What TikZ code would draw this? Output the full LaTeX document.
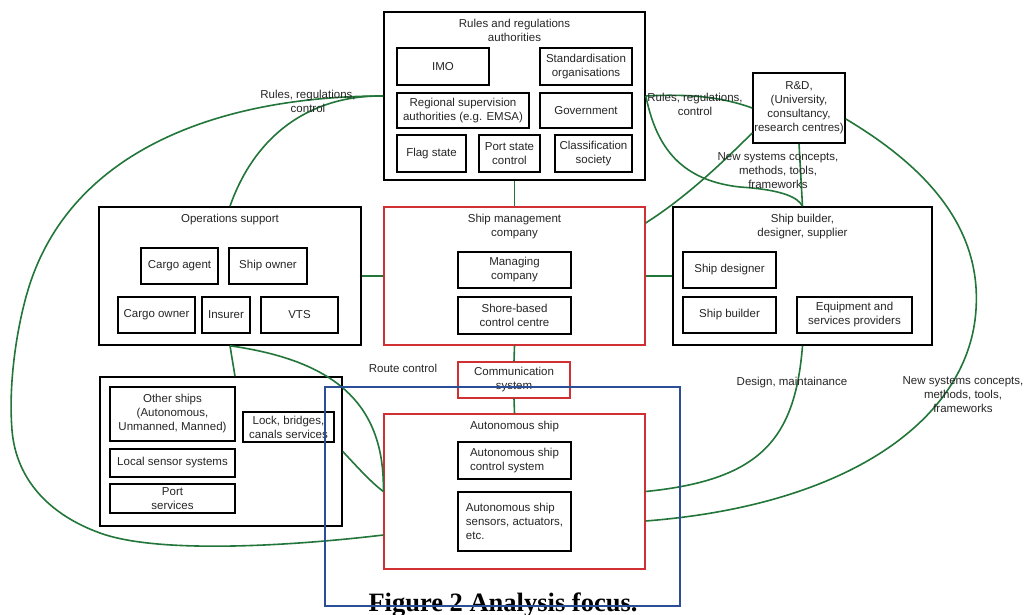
\documentclass[tikz,border=0pt]{standalone}
\usepackage{fontspec}
\setmainfont{Liberation Sans}
\newfontfamily\capfont{Liberation Serif}
\definecolor{linkgreen}{RGB}{34,118,58}
\definecolor{mgmtred}{RGB}{208,48,52}
\definecolor{focusblue}{RGB}{44,78,150}

\begin{document}
\begin{tikzpicture}[x=1pt, y=-1pt,
  every node/.style={font=\fontsize{11.5}{14}\selectfont, text=black!85},
  inbox/.style={draw, line width=1.6pt, inner sep=1pt, align=center},
  outerbox/.style={draw, line width=1.6pt},
  redbox/.style={draw=mgmtred, line width=1.3pt},
  boxtitle/.style={anchor=north, inner sep=8pt, align=center},
  greenlink/.style={draw=linkgreen, line width=1.6pt},
  linklabel/.style={align=center, inner sep=0pt}]
  \path[use as bounding box, fill=white] (0,0) rectangle (1027,615);

  \node[outerbox, minimum width=261pt, minimum height=168pt, label={[boxtitle]north:Rules and regulations\\authorities}] (rules) at (514.5,96) {};
  \node[inbox, minimum width=92pt, minimum height=37pt] (imo) at (443,66.5) {IMO};
  \node[inbox, minimum width=92pt, minimum height=37pt] (stdorg) at (586,66.5) {Standardisation\\organisations};
  \node[inbox, minimum width=132pt, minimum height=35pt] (regional) at (463,110.5) {Regional supervision\\authorities (e.g. EMSA)};
  \node[inbox, minimum width=92pt, minimum height=35pt] (gov) at (586,110.5) {Government};
  \node[inbox, minimum width=69pt, minimum height=37pt] (flag) at (431.5,153.5) {Flag state};
  \node[inbox, minimum width=61pt, minimum height=37pt] (psc) at (509.5,153.5) {Port state\\control};
  \node[inbox, minimum width=77pt, minimum height=37pt] (classsoc) at (593.5,153.5) {Classification\\society};

  \node[inbox, minimum width=92pt, minimum height=70pt] (rd) at (799,108) {R\&D,\\(University,\\consultancy,\\research centres)};

  \node[outerbox, minimum width=262pt, minimum height=138pt, label={[boxtitle]north:Operations support}] (ops) at (230,276) {};
  \node[inbox, minimum width=77pt, minimum height=36pt] (cargoagent) at (179.5,266) {Cargo agent};
  \node[inbox, minimum width=78pt, minimum height=36pt] (shipowner) at (268,266) {Ship owner};
  \node[inbox, minimum width=77pt, minimum height=36pt] (cargoowner) at (156.5,315) {Cargo owner};
  \node[inbox, minimum width=48pt, minimum height=36pt] (insurer) at (226,315) {Insurer};
  \node[inbox, minimum width=77pt, minimum height=36pt] (vts) at (299.5,315) {VTS};

  \node[outerbox, minimum width=242pt, minimum height=149pt] (local) at (221,451.5) {};
  \node[inbox, minimum width=125pt, minimum height=54pt] (othership) at (172.5,414) {Other ships\\(Autonomous,\\Unmanned, Manned)};
  \node[inbox, minimum width=91pt, minimum height=30pt] (lock) at (288.5,427) {Lock, bridges,\\canals services};
  \node[inbox, minimum width=125pt, minimum height=28pt] (sensorsys) at (172.5,463) {Local sensor systems};
  \node[inbox, minimum width=125pt, minimum height=29pt] (portserv) at (172.5,498.5) {Port\\services};

  \node[redbox, minimum width=261pt, minimum height=138pt, label={[boxtitle]north:Ship management\\company}] (mgmt) at (514.5,276) {};
  \node[inbox, minimum width=113pt, minimum height=36pt] (managing) at (514.5,270) {Managing\\company};
  \node[inbox, minimum width=113pt, minimum height=37pt] (shore) at (514.5,315.5) {Shore-based\\control centre};
  \node[inbox, redbox, minimum width=112pt, minimum height=36pt] (comm) at (514,380) {Communication\\system};

  \node[outerbox, minimum width=259pt, minimum height=138pt, label={[boxtitle]north:Ship builder,\\designer, supplier}] (builder) at (802.5,276) {};
  \node[inbox, minimum width=93pt, minimum height=36pt] (designer) at (729.5,270) {Ship designer};
  \node[inbox, minimum width=93pt, minimum height=36pt] (shipbuilder) at (729.5,315) {Ship builder};
  \node[inbox, minimum width=115pt, minimum height=36pt] (equip) at (854.5,315) {Equipment and\\services providers};

  \node[redbox, minimum width=261pt, minimum height=155pt, label={[boxtitle]north:Autonomous ship}] (auto) at (514.5,491.5) {};
  \node[inbox, align=left, minimum width=113pt, minimum height=37pt] (ctrl) at (514.5,460.5) {Autonomous ship\\control system};
  \node[inbox, align=left, minimum width=113pt, minimum height=59pt] (actuators) at (514.5,521.5) {Autonomous ship\\sensors, actuators,\\etc.};

  \draw[greenlink] (rules.south) -- (mgmt.north);
  \draw[greenlink] (ops.east) -- (mgmt.west);
  \draw[greenlink] (mgmt.east) -- (builder.west);
  \draw[greenlink] (mgmt.south) -- (comm.north);
  \draw[greenlink] (comm.south) -- (auto.north);
  \draw[greenlink] (rules.west) .. controls (310,95) and (255,135) .. (ops.north);
  \draw[greenlink] (rules.west) .. controls (220,96) and (70,150) .. (28,290) .. controls (18,323) and (8,380) .. (12,430) .. controls (16,480) and (50,515) .. (100,533) .. controls (160,555) and (300,545) .. ([yshift=-43.5pt]auto.west);
  \draw[greenlink] (rules.east) .. controls (700,93) and (730,100) .. (rd.west);
  \draw[greenlink] (rules.east) .. controls (655,140) and (675,180) .. (740,187) .. controls (785,190) and (798,198) .. (builder.north);
  \draw[greenlink] ([yshift=-25pt]rd.west) .. controls (720,165) and (685,198) .. ([yshift=53pt]mgmt.east);
  \draw[greenlink] (rd.south) -- (builder.north);
  \draw[greenlink] ([yshift=-11pt]rd.east) .. controls (940,175) and (985,240) .. (975,320) .. controls (962,420) and (850,505) .. ([yshift=-29.5pt]auto.east);
  \draw[greenlink] (builder.south) .. controls (795,440) and (760,480) .. (auto.east);
  \draw[greenlink] (ops.south) -- ([xshift=14pt]local.north);
  \draw[greenlink] (ops.south) .. controls (330,360) and (385,400) .. (auto.west);
  \draw[greenlink] (local.east) .. controls (360,470) and (372,483) .. (auto.west);

  \node[linklabel] (rulesleft) at (308,101) {Rules, regulations,\\control};
  \node[linklabel] (rulesright) at (695,104) {Rules, regulations,\\control};
  \node[linklabel] (conceptstop) at (778,171) {New systems concepts,\\methods, tools,\\frameworks};
  \node[linklabel] (route) at (403,368) {Route control};
  \node[linklabel] (design) at (792,383) {Design, maintainance};
  \node[linklabel] (conceptsright) at (963,395) {New systems concepts,\\methods, tools,\\frameworks};

  \node[font=\capfont\bfseries\fontsize{26.5}{30}\selectfont, text=black, anchor=base] (caption) at (503,611) {Figure 2 Analysis focus.};
  \node[draw=focusblue, line width=2pt, minimum width=355pt, minimum height=219pt] (focus) at (502.5,496.5) {};
\end{tikzpicture}
\end{document}
